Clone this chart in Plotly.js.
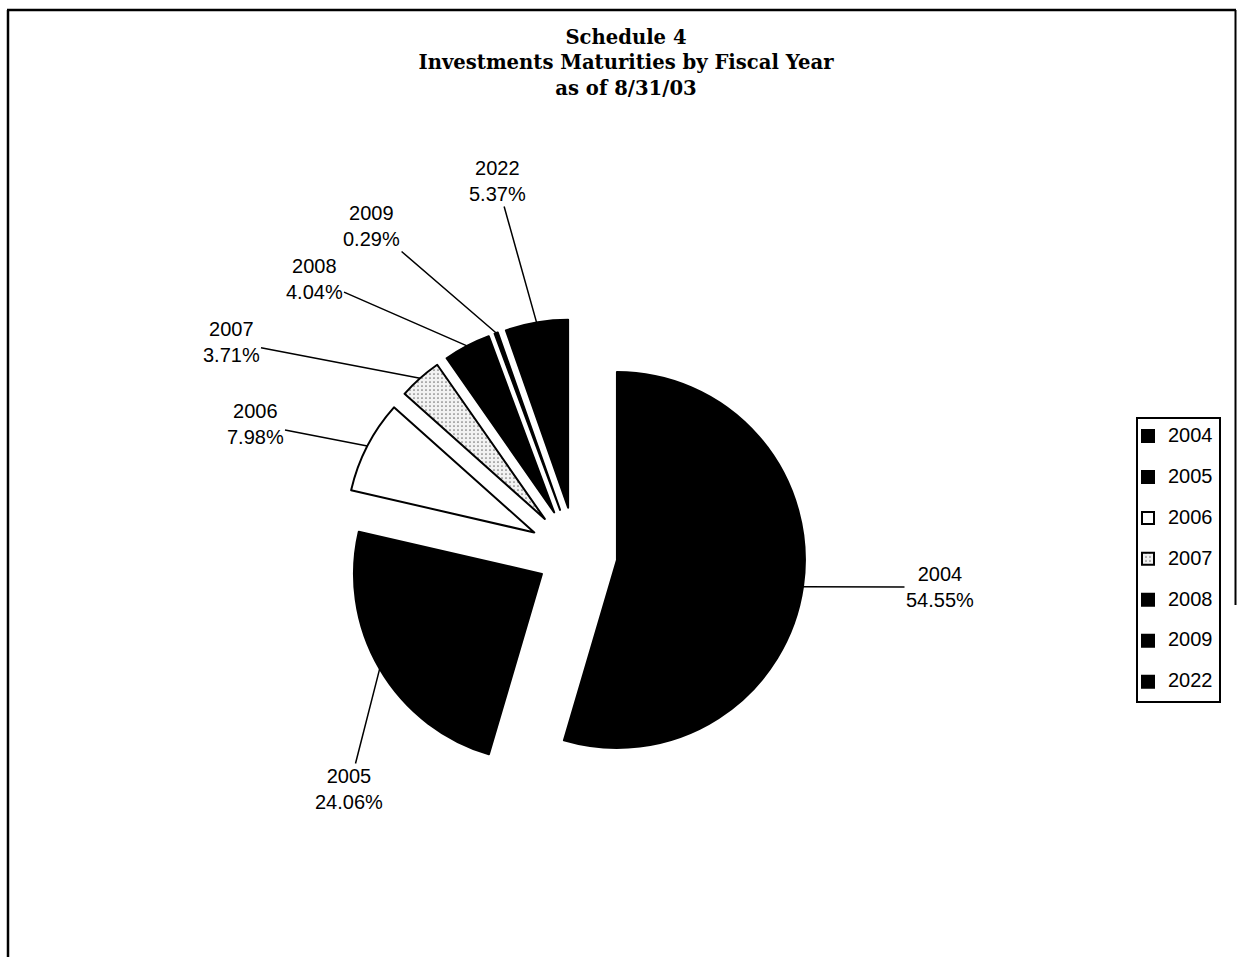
<!DOCTYPE html>
<html>
<head>
<meta charset="utf-8">
<script src="https://cdn.plot.ly/plotly-3.0.1.min.js"></script>
<style>
  html, body { margin: 0; padding: 0; background: #fff; }
  #chart { width: 1237px; height: 957px; }
</style>
</head>
<body>
<div id="chart"></div>
<script>
// ---- data ----
const years = ['2004', '2005', '2006', '2007', '2008', '2009', '2022'];
const shares = [54.55, 24.06, 7.98, 3.71, 4.04, 0.29, 5.37];

// ---- styles / positions ----
const sliceColors = ['#000000', '#000000', '#ffffff', '#eeeeee', '#000000', '#000000', '#000000'];
const slicePull = [0.22, 0.21, 0.25, 0.25, 0.25, 0.25, 0.25];
// label centres in pixels (text block centre)
const labelPosX = [940, 349, 255, 231, 314, 372, 497];
const labelPosY = [587, 789, 424, 342, 279, 226, 181];

const W = 1237, H = 957;
const dom = { x: [0.2757, 0.6556], y: [0.1754, 0.6667] };

// geometry of the pie as Plotly lays it out (used only to aim leader lines)
const cx = W * (dom.x[0] + dom.x[1]) / 2;
const cy = H * (1 - (dom.y[0] + dom.y[1]) / 2);
const maxPull = Math.max(...slicePull);
const rad = Math.min(W * (dom.x[1] - dom.x[0]), H * (dom.y[1] - dom.y[0])) / (2 + 2 * maxPull);
const total = shares.reduce((a, b) => a + b, 0);

const annotations = [];
let cum = 0;
shares.forEach((v, i) => {
  const mid = (cum + v / 2) / total * 2 * Math.PI;
  cum += v;
  const ux = Math.sin(mid), uy = -Math.cos(mid);
  const px = cx + (1 + slicePull[i]) * rad * ux;
  const py = cy + (1 + slicePull[i]) * rad * uy;
  annotations.push({
    xref: 'paper', yref: 'paper',
    x: px / W, y: 1 - py / H,
    ax: labelPosX[i] - px, ay: labelPosY[i] - py,
    text: years[i] + '<br>' + (v / total * 100).toFixed(2) + '%',
    showarrow: true, arrowhead: 0, arrowwidth: 1.5, arrowcolor: '#000',
    standoff: 0, startstandoff: 0,
    font: { family: 'Liberation Sans, Arial, sans-serif', size: 20, color: '#000' },
    align: 'center'
  });
});

const trace = {
  type: 'pie',
  labels: years.map(y => "<span style='font-size:20px'>" + y + "</span><br> "),
  values: shares,
  sort: false,
  direction: 'clockwise',
  rotation: 0,
  pull: slicePull,
  textinfo: 'none',
  hoverinfo: 'label+percent',
  domain: dom,
  marker: {
    colors: sliceColors,
    line: { color: '#000', width: 2 },
    pattern: {
      shape: ['', '', '', '.', '', '', ''],
      fgcolor: '#777', bgcolor: '#f2f2f2', size: 4, solidity: 0.15
    }
  }
};

const layout = {
  width: W, height: H,
  margin: { l: 0, r: 0, t: 0, b: 0 },
  paper_bgcolor: '#fff',
  plot_bgcolor: '#fff',
  title: {
    text: 'Schedule 4<br>Investments Maturities by Fiscal Year<br>as of 8/31/03',
    font: { family: 'DejaVu Serif, Liberation Serif, serif', size: 19.6, weight: 'bold', color: '#000' },
    x: 626 / W, xanchor: 'center',
    xref: 'container', yref: 'container',
    y: 1 - 44 / H, yanchor: 'top'
  },
  showlegend: true,
  legend: {
    x: 1128 / W, xanchor: 'left',
    y: 1 - 420 / H, yanchor: 'top',
    bgcolor: 'rgba(0,0,0,0)', borderwidth: 0,
    font: { family: 'Liberation Sans, Arial, sans-serif', size: 14.6, color: '#000' },
    valign: 'top',
    itemclick: false, itemdoubleclick: false
  },
  annotations: annotations,
  shapes: [
    { type: 'line', xref: 'paper', yref: 'paper', x0: 7 / W, x1: 1236 / W, y0: 1 - 10 / H, y1: 1 - 10 / H, line: { color: '#000', width: 2.5 } },
    { type: 'line', xref: 'paper', yref: 'paper', x0: 8 / W, x1: 8 / W, y0: 1 - 10 / H, y1: -0.01, line: { color: '#000', width: 2.5 } },
    { type: 'line', xref: 'paper', yref: 'paper', x0: 1235.5 / W, x1: 1235.5 / W, y0: 1 - 10 / H, y1: 1 - 605 / H, line: { color: '#000', width: 2 } },
    // legend frame
    { type: 'rect', xref: 'paper', yref: 'paper', x0: 1137 / W, x1: 1220 / W, y0: 1 - 702 / H, y1: 1 - 418 / H, line: { color: '#000', width: 2 }, fillcolor: 'rgba(0,0,0,0)' }
  ]
};

Plotly.newPlot('chart', [trace], layout, { displayModeBar: false, staticPlot: true });
</script>
</body>
</html>
